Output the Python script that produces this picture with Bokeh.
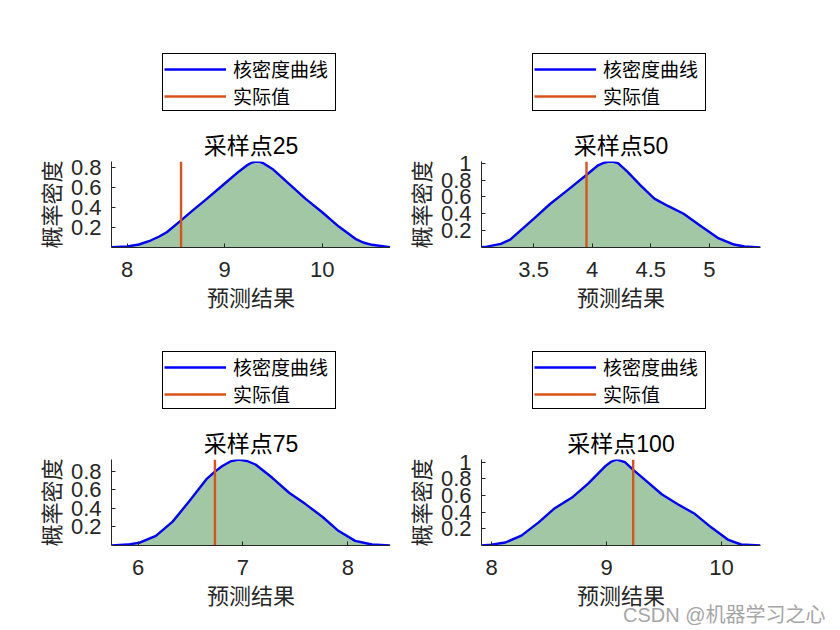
from bokeh.plotting import figure
from bokeh.layouts import column, row
from bokeh.models import Legend, LegendItem, FixedTicker, Title, Range1d
from bokeh.embed import file_html
from bokeh.resources import INLINE

# ---------------- data ----------------
titles = ["采样点25", "采样点50", "采样点75", "采样点100"]
x_label = "预测结果"
y_label = "概率密度"
legend_labels = ["核密度曲线", "实际值"]
watermark = "CSDN @机器学习之心"

kde_x_25 = [7.84, 8.00, 8.12, 8.24, 8.33, 8.41, 8.55, 8.67, 8.81, 8.98, 9.15, 9.23, 9.28, 9.32,
            9.36, 9.40, 9.49, 9.66, 9.83, 10.00, 10.17, 10.34, 10.42, 10.51, 10.70]
kde_y_25 = [0.002, 0.010, 0.030, 0.070, 0.110, 0.155, 0.270, 0.370, 0.483, 0.624, 0.765, 0.825, 0.852, 0.862,
            0.858, 0.843, 0.787, 0.637, 0.487, 0.353, 0.210, 0.087, 0.050, 0.027, 0.002]

kde_x_50 = [3.055, 3.10, 3.22, 3.30, 3.36, 3.50, 3.64, 3.79, 3.95, 4.05, 4.10, 4.14, 4.18, 4.22,
            4.30, 4.41, 4.53, 4.65, 4.78, 4.92, 5.07, 5.21, 5.30, 5.436]
kde_y_50 = [0.003, 0.010, 0.043, 0.093, 0.168, 0.340, 0.516, 0.680, 0.860, 0.975, 1.005, 1.020, 1.015, 1.000,
            0.900, 0.740, 0.580, 0.490, 0.400, 0.260, 0.115, 0.035, 0.012, 0.002]

kde_x_75 = [5.747, 5.90, 6.01, 6.17, 6.33, 6.49, 6.65, 6.73, 6.80, 6.88, 6.96, 7.04, 7.12,
            7.28, 7.44, 7.60, 7.76, 7.91, 8.07, 8.23, 8.407]
kde_y_75 = [0.001, 0.010, 0.029, 0.104, 0.257, 0.479, 0.711, 0.793, 0.854, 0.905, 0.926, 0.910, 0.872,
            0.729, 0.568, 0.443, 0.307, 0.158, 0.050, 0.011, 0.001]

kde_x_100 = [7.913, 8.00, 8.12, 8.26, 8.41, 8.55, 8.70, 8.84, 8.99, 9.04, 9.09, 9.16, 9.23,
             9.33, 9.48, 9.62, 9.77, 9.91, 10.06, 10.17, 10.339]
kde_y_100 = [0.001, 0.010, 0.036, 0.119, 0.278, 0.448, 0.575, 0.742, 0.952, 1.005, 1.032, 1.000, 0.910,
             0.794, 0.615, 0.496, 0.377, 0.218, 0.067, 0.012, 0.001]

actual_values = [8.553, 3.951, 6.733, 9.232]

x_ticks = [[8, 9, 10], [3.5, 4, 4.5, 5], [6, 7, 8], [8, 9, 10]]
x_tick_labels = [["8", "9", "10"], ["3.5", "4", "4.5", "5"], ["6", "7", "8"], ["8", "9", "10"]]
y_ticks = [[0.2, 0.4, 0.6, 0.8], [0.2, 0.4, 0.6, 0.8, 1.0], [0.2, 0.4, 0.6, 0.8], [0.2, 0.4, 0.6, 0.8, 1.0]]
y_tick_labels = [["0.2", "0.4", "0.6", "0.8"], ["0.2", "0.4", "0.6", "0.8", "1"],
                 ["0.2", "0.4", "0.6", "0.8"], ["0.2", "0.4", "0.6", "0.8", "1"]]

kde_x = [kde_x_25, kde_x_50, kde_x_75, kde_x_100]
kde_y = [kde_y_25, kde_y_50, kde_y_75, kde_y_100]

# ---------------- styles ----------------
FILL = "#a2c7a4"
BLUE = "#0000ff"
RED = "#d95319"
AXC = "#262626"
CJK = "Noto Sans CJK SC"
NUM = "Liberation Sans"
MIX = "'Liberation Sans', 'Noto Sans CJK SC'"
LW = 2.4


def make_panel(i, bl, br, bt, bb):
    xs, ys = kde_x[i], kde_y[i]
    ymax = max(ys)
    p = figure(frame_width=279, frame_height=86,
               min_border_left=bl, min_border_right=br, min_border_top=bt, min_border_bottom=bb,
               x_range=Range1d(xs[0], xs[-1]), y_range=Range1d(0, ymax),
               output_backend="svg", toolbar_location=None,
               background_fill_color="white", border_fill_color="white")
    p.outline_line_color = None
    p.grid.visible = False

    p.varea(x=xs, y1=[0] * len(xs), y2=ys, fill_color=FILL, fill_alpha=1)
    p.line(xs, ys, line_color=BLUE, line_width=LW, line_join="round")
    p.line([actual_values[i], actual_values[i]], [0, ymax], line_color=RED, line_width=LW)

    p.title.text = titles[i]
    p.title.text_font = MIX
    p.title.text_font_size = "23px"
    p.title.text_font_style = "normal"
    p.title.text_color = "black"
    p.title.align = "center"
    p.title.standoff = 6

    for ax in (p.xaxis[0], p.yaxis[0]):
        ax.axis_line_color = AXC
        ax.major_tick_line_color = AXC
        ax.major_tick_in = 4
        ax.major_tick_out = 0
        ax.minor_tick_line_color = None
        ax.major_label_text_font = NUM
        ax.major_label_text_font_size = "22px"
        ax.major_label_text_color = AXC
        ax.axis_label_text_font = CJK
        ax.axis_label_text_font_size = "22px"
        ax.axis_label_text_font_style = "normal"
        ax.axis_label_text_color = AXC

    p.xaxis.ticker = FixedTicker(ticks=x_ticks[i])
    p.xaxis.major_label_overrides = {float(t): s for t, s in zip(x_ticks[i], x_tick_labels[i])}
    p.xaxis.major_label_standoff = 14
    p.xaxis.axis_label = x_label
    p.xaxis.axis_label_standoff = 0

    p.yaxis.ticker = FixedTicker(ticks=y_ticks[i])
    p.yaxis.major_label_overrides = {float(t): s for t, s in zip(y_ticks[i], y_tick_labels[i])}
    p.yaxis.major_label_standoff = 10
    p.yaxis.axis_label = y_label
    p.yaxis.axis_label_standoff = 2
    return p


def make_legend_fig(w, h, lx, ly):
    # a blank canvas that only carries the legend box shown above each panel;
    # the two proxy lines lie outside its range, so only their legend swatches show
    f = figure(width=w, height=h, min_border=0, x_range=Range1d(0, 1), y_range=Range1d(0, 1),
               x_axis_type=None, y_axis_type=None, output_backend="svg", toolbar_location=None,
               background_fill_color="white", border_fill_color="white")
    f.outline_line_color = None
    f.grid.visible = False
    r1 = f.line(x=[5, 6], y=[5, 6], line_color=BLUE, line_width=LW)
    r2 = f.line(x=[5, 6], y=[5, 6], line_color=RED, line_width=LW)
    legend = Legend(items=[LegendItem(label=legend_labels[0], renderers=[r1]),
                           LegendItem(label=legend_labels[1], renderers=[r2])],
                    location=(lx, ly), orientation="vertical",
                    label_text_font=CJK, label_text_font_size="19px", label_text_color="black",
                    glyph_width=62, glyph_height=20, label_height=20, label_standoff=7,
                    label_width=101, spacing=0, padding=1, margin=0,
                    border_line_color="black", border_line_width=1, border_line_alpha=1,
                    background_fill_color="white", background_fill_alpha=1)
    f.add_layout(legend)
    return f


L1 = make_legend_fig(390, 120, 162, 9)
L2 = make_legend_fig(442, 120, 142, 9)
p1 = make_panel(0, 111, 0, 41, 83)
p2 = make_panel(1, 91, 72, 41, 83)
L3 = make_legend_fig(390, 88, 162, 9)
L4 = make_legend_fig(442, 88, 142, 9)
p3 = make_panel(2, 111, 0, 41, 80)
p4 = make_panel(3, 91, 72, 41, 80)

p4.add_layout(Title(text=watermark, text_font=MIX, text_font_size="20px", text_font_style="normal",
                    text_color="#a6a6a6", align="right", offset=-65, standoff=-21), "below")

layout = column(row(L1, L2), row(p1, p2), row(L3, L4), row(p3, p4))
open("out.html", "w").write(file_html(layout, INLINE))
